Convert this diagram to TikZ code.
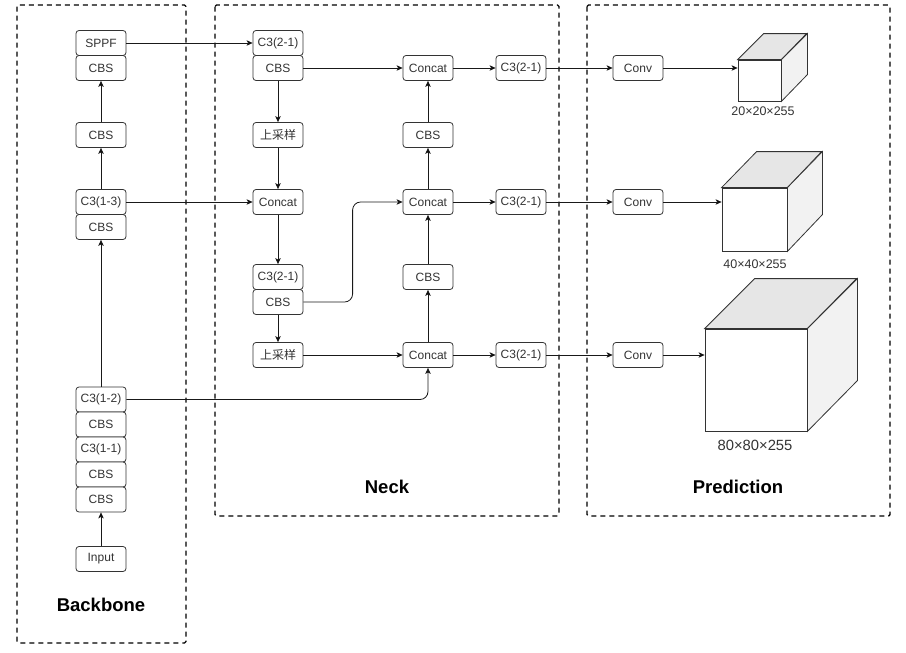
\documentclass[tikz,border=0pt]{standalone}
\usepackage{fontspec}
\setmainfont{Liberation Sans}
\newfontfamily\cjk{Noto Sans CJK SC}
\usetikzlibrary{positioning,arrows.meta}
\definecolor{boxline}{HTML}{333333}
\definecolor{topgray}{HTML}{E6E6E6}
\definecolor{sidegray}{HTML}{F2F2F2}

\begin{document}
\begin{tikzpicture}[x=1pt,y=-1pt,
    blk/.style={rectangle,draw=boxline,fill=white,rounded corners=3pt,minimum width=50pt,minimum height=25pt,inner sep=0pt,text=boxline,font=\fontsize{12}{14}\selectfont,line width=0.8pt},
    frame/.style={draw,dash pattern=on 5pt off 4pt,line width=1.4pt,rounded corners=1.5pt},
    flow/.style={-{Stealth[length=6pt,width=5.5pt,inset=1.5pt]},line width=0.8pt,draw=black!90},
    title/.style={font=\fontsize{18.5}{20}\selectfont\bfseries},
    dims/.style={text=boxline,font=\fontsize{12.5}{14}\selectfont},
    front/.style={rectangle,draw=boxline,fill=white,line width=0.8pt,inner sep=0pt},
    face/.style={draw=boxline,line width=0.8pt}]
            \useasboundingbox (0,0) rectangle (906,653);

            % frames
            \draw[frame] (17,5) rectangle (186,643);
            \draw[frame] (215,5) rectangle (559,516);
            \draw[frame] (587,5) rectangle (890,516);
            \node[title] (backbone) at (101,605) {Backbone};
            \node[title] (neck) at (387,487) {Neck};
            \node[title] (prediction) at (738,487) {Prediction};

            % backbone
            \node[blk] (sppf) at (101,43) {SPPF};
            \node[blk] (bcbsA) at (101,68) {CBS};
            \node[blk] (bcbsB) at (101,135) {CBS};
            \node[blk] (bcthree) at (101,202) {C3(1-3)};
            \node[blk] (bcbsC) at (101,227) {CBS};
            \node[blk] (bctwo) at (101,399.5) {C3(1-2)};
            \node[blk] (bcbsD) at (101,424.5) {CBS};
            \node[blk] (bcone) at (101,449.5) {C3(1-1)};
            \node[blk] (bcbsE) at (101,474.5) {CBS};
            \node[blk] (bcbsF) at (101,499.5) {CBS};
            \node[blk] (input) at (101,559) {Input};

            % neck
            \node[blk] (nc3A) at (278,43) {C3(2-1)};
            \node[blk] (ncbsA) at (278,68) {CBS};
            \node[blk] (upA) at (278,135) {\cjk 上采样};
            \node[blk] (ncatA) at (278,202) {Concat};
            \node[blk] (nc3B) at (278,277) {C3(2-1)};
            \node[blk] (ncbsB) at (278,302) {CBS};
            \node[blk] (upB) at (278,355) {\cjk 上采样};
            \node[blk] (catA) at (428,68) {Concat};
            \node[blk] (ncbsC) at (428,135) {CBS};
            \node[blk] (catB) at (428,202) {Concat};
            \node[blk] (ncbsD) at (428,277) {CBS};
            \node[blk] (catC) at (428,355) {Concat};
            \node[blk] (outA) at (521,68) {C3(2-1)};
            \node[blk] (outB) at (521,202) {C3(2-1)};
            \node[blk] (outC) at (521,355) {C3(2-1)};

            % prediction
            \node[blk] (convA) at (638,68) {Conv};
            \node[blk] (convB) at (638,202) {Conv};
            \node[blk] (convC) at (638,355) {Conv};

            \node[front,minimum width=43pt,minimum height=41pt] (cubeA) at (759.5,80.5) {};
            \filldraw[face,fill=topgray] (cubeA.north west) -- ++(26,-26) -- ++(43,0) -- (cubeA.north east) -- cycle;
            \filldraw[face,fill=sidegray] (cubeA.north east) -- ++(26,-26) -- ++(0,41) -- (cubeA.south east) -- cycle;
            \node[dims] (dimA) at (763,111) {20×20×255};

            \node[front,minimum width=65pt,minimum height=63pt] (cubeB) at (754.5,219.5) {};
            \filldraw[face,fill=topgray] (cubeB.north west) -- ++(35,-36) -- ++(65,0) -- (cubeB.north east) -- cycle;
            \filldraw[face,fill=sidegray] (cubeB.north east) -- ++(35,-36) -- ++(0,63) -- (cubeB.south east) -- cycle;
            \node[dims] (dimB) at (755,264) {40×40×255};

            \node[front,minimum width=102pt,minimum height=102pt] (cubeC) at (756,380) {};
            \filldraw[face,fill=topgray] (cubeC.north west) -- ++(50,-50) -- ++(102,0) -- (cubeC.north east) -- cycle;
            \filldraw[face,fill=sidegray] (cubeC.north east) -- ++(50,-50) -- ++(0,102) -- (cubeC.south east) -- cycle;
            \node[dims,font=\fontsize{14.8}{16}\selectfont] (dimC) at (755,445) {80×80×255};

            \path[flow]
            (bcbsB) edge (bcbsA)
            (bcthree) edge (bcbsB)
            (bctwo) edge (bcbsC)
            (input) edge (bcbsF)
            (sppf) edge (nc3A)
            (bcthree) edge (ncatA)
            (ncbsA) edge (upA)
            (upA) edge (ncatA)
            (ncatA) edge (nc3B)
            (ncbsB) edge (upB)
            (ncbsA) edge (catA)
            (upB) edge (catC)
            (catC) edge (ncbsD)
            (ncbsD) edge (catB)
            (catB) edge (ncbsC)
            (ncbsC) edge (catA)
            (catA) edge (outA)
            (catB) edge (outB)
            (catC) edge (outC)
            (outA) edge (convA)
            (outB) edge (convB)
            (outC) edge (convC)
            (convA) edge (convA -| cubeA.west)
            (convB) edge (convB -| cubeB.west)
            (convC) edge (convC -| cubeC.west)
            ;
            \draw[flow,rounded corners=8pt] (ncbsB.east) -| ([xshift=-50pt]catB.west) -- (catB.west);
            \draw[flow,rounded corners=8pt] (bctwo.east) -| (catC.south);

        \end{tikzpicture}
\end{document}
